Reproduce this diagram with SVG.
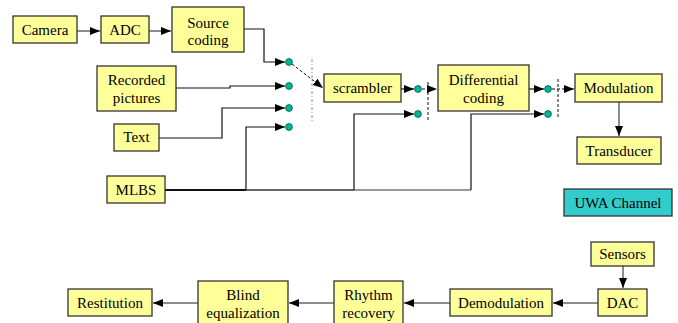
<svg xmlns="http://www.w3.org/2000/svg" width="678" height="323" viewBox="0 0 678 323">
<defs>
<marker id="ah" markerUnits="userSpaceOnUse" markerWidth="10" markerHeight="10" viewBox="0 0 10 10" refX="10" refY="5" orient="auto">
<path d="M0,1 L10,5 L0,9 Z" fill="#000"/>
</marker>
</defs>
<style>
.box{fill:#FFFF99;stroke:#333;stroke-width:1.3}
.uwa{fill:#33CCCC;stroke:#333;stroke-width:1.3}
text{font-family:"Liberation Serif","Times New Roman",serif;font-size:15px;fill:#000;text-anchor:middle}
.ln{fill:none;stroke:#111;stroke-width:1.2}
.gl{fill:none;stroke:#666;stroke-width:1.5}
.dot{fill:#00B894;stroke:#055;stroke-width:0.8}
.dash{fill:none;stroke:#111;stroke-width:1;stroke-dasharray:3,2}
.dd{fill:none;stroke:#777;stroke-width:0.8;stroke-dasharray:3,2,1,2}
</style>
<g id="connectors">
<path class="gl" d="M77,31 H100" marker-end="url(#ah)"/>
<path class="gl" d="M149,31 H171" marker-end="url(#ah)"/>
<path class="ln" d="M244,29 H264 V62 H285" marker-end="url(#ah)"/>
<path class="ln" d="M176,88 H230 V86 H285" marker-end="url(#ah)"/>
<path class="ln" d="M159,138 H222 V108 H285" marker-end="url(#ah)"/>
<path class="ln" d="M246,190 V127 H285" marker-end="url(#ah)"/>
<path d="M165,190 H246" fill="none" stroke="#111" stroke-width="2"/>
<path d="M246,190 H354" fill="none" stroke="#333" stroke-width="1.5"/>
<path d="M354,190 H471" fill="none" stroke="#777" stroke-width="1.5"/>
<path class="ln" d="M354,190 V114 H414" marker-end="url(#ah)"/>
<path class="ln" d="M471,190 V114 H544" marker-end="url(#ah)"/>
<path class="dd" d="M312,59 V123"/>
<path class="dash" d="M292,64 L323,88" marker-end="url(#ah)"/>
<path class="ln" d="M401,89 H414" marker-end="url(#ah)"/>
<path class="dash" d="M422,89 H437" marker-end="url(#ah)"/>
<path class="dash" d="M428,82 V122"/>
<path class="ln" d="M529,89 H544" marker-end="url(#ah)"/>
<path class="dash" d="M552,89 H574" marker-end="url(#ah)"/>
<path class="dash" d="M558,79 V117"/>
<path class="gl" d="M619,102 V136" marker-end="url(#ah)"/>
<path class="gl" d="M623,266 V288" marker-end="url(#ah)"/>
<path class="gl" d="M598,303 H553" marker-end="url(#ah)"/>
<path class="gl" d="M450,303 H404" marker-end="url(#ah)"/>
<path class="gl" d="M334,303 H289" marker-end="url(#ah)"/>
<path class="gl" d="M198,303 H153" marker-end="url(#ah)"/>
<circle class="dot" cx="289" cy="62" r="3.4"/>
<circle class="dot" cx="289" cy="86" r="3.4"/>
<circle class="dot" cx="289" cy="108" r="3.4"/>
<circle class="dot" cx="289" cy="127" r="3.4"/>
<circle class="dot" cx="418" cy="89" r="3.4"/>
<circle class="dot" cx="418" cy="114" r="3.4"/>
<circle class="dot" cx="548" cy="89" r="3.4"/>
<circle class="dot" cx="548" cy="114" r="3.4"/>
</g>
<g id="camera"><rect class="box" x="13" y="16" width="64" height="27"/><text x="45" y="34.5">Camera</text></g>
<g id="adc"><rect class="box" x="101" y="16" width="48" height="27"/><text x="125" y="34.5">ADC</text></g>
<g id="source-coding"><rect class="box" x="172" y="7" width="72" height="45"/><text x="208" y="27.5">Source</text><text x="208" y="45">coding</text></g>
<g id="recorded-pictures"><rect class="box" x="97" y="66" width="79" height="45"/><text x="136.5" y="85">Recorded</text><text x="136.5" y="103">pictures</text></g>
<g id="text"><rect class="box" x="114" y="124" width="45" height="27"/><text x="136.5" y="142">Text</text></g>
<g id="mlbs"><rect class="box" x="107" y="176" width="58" height="27"/><text x="136" y="194.5">MLBS</text></g>
<g id="scrambler"><rect class="box" x="324" y="74" width="77" height="28"/><text x="362.5" y="93">scrambler</text></g>
<g id="differential-coding"><rect class="box" x="438" y="65" width="91" height="46"/><text x="483.5" y="85">Differential</text><text x="483.5" y="102.5">coding</text></g>
<g id="modulation"><rect class="box" x="575" y="74" width="87" height="28"/><text x="618.5" y="93">Modulation</text></g>
<g id="transducer"><rect class="box" x="577" y="137" width="84" height="27"/><text x="619" y="156">Transducer</text></g>
<g id="uwa-channel"><rect class="uwa" x="564" y="189" width="108" height="27"/><text x="618" y="207.5">UWA Channel</text></g>
<g id="sensors"><rect class="box" x="591" y="242" width="63" height="24"/><text x="622.5" y="259">Sensors</text></g>
<g id="dac"><rect class="box" x="598" y="289" width="49" height="27"/><text x="622.5" y="307.5">DAC</text></g>
<g id="demodulation"><rect class="box" x="450" y="289" width="102" height="27"/><text x="501" y="307.5">Demodulation</text></g>
<g id="rhythm-recovery"><rect class="box" x="334" y="281" width="69" height="45"/><text x="368.5" y="300">Rhythm</text><text x="368.5" y="317.5">recovery</text></g>
<g id="blind-equalization"><rect class="box" x="198" y="281" width="90" height="45"/><text x="243" y="300">Blind</text><text x="243" y="317.5">equalization</text></g>
<g id="restitution"><rect class="box" x="68" y="289" width="84" height="27"/><text x="110" y="307.5">Restitution</text></g>
</svg>
